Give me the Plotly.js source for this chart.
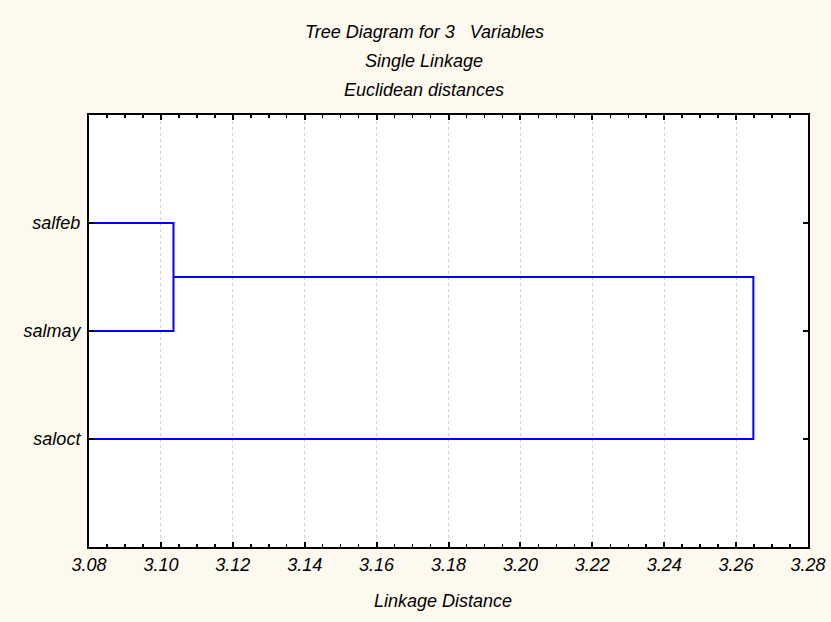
<!DOCTYPE html>
<html>
<head>
<meta charset="utf-8">
<script src="https://cdn.plot.ly/plotly-3.0.1.min.js"></script>
<style>html,body{margin:0;padding:0;background:#fdf9ef;}#chart{width:831px;height:622px;}</style>
</head>
<body>
<div id="chart"></div>
<script>
// ---- data ----
const variables = ['salfeb', 'salmay', 'saloct'];
const leafPositions = [3, 2, 1];
// merges: [clusterA, clusterB]; cluster ids >= n refer to earlier merges
const mergePairs = [[0, 1], [3, 2]];
const mergeDistances = [3.1035, 3.2648];
const xRange = [3.08, 3.28];
const titleLines = ['Tree Diagram for 3   Variables', 'Single Linkage', 'Euclidean distances'];
const xAxisTitle = 'Linkage Distance';

// ---- build dendrogram segments ----
const nodeY = leafPositions.slice();
const nodeX = leafPositions.map(() => xRange[0]);
const xs = [], ys = [];
mergePairs.forEach((pair, i) => {
  const d = mergeDistances[i];
  const [a, b] = pair;
  xs.push(nodeX[a], d, d, nodeX[b], null);
  ys.push(nodeY[a], nodeY[a], nodeY[b], nodeY[b], null);
  nodeY.push((nodeY[a] + nodeY[b]) / 2);
  nodeX.push(d);
});

const font = {family: 'Liberation Sans, Arial, sans-serif', size: 18, color: '#000'};
const titleAnn = titleLines.map((t, i) => ({
  text: '<i>' + t + '</i>', xref: 'paper', yref: 'paper',
  x: 0.466, y: [1.192, 1.125, 1.058][i], xanchor: 'center', yanchor: 'middle',
  showarrow: false, font: font
}));
titleAnn.push({
  text: '<i>' + xAxisTitle + '</i>', xref: 'paper', yref: 'paper',
  x: 0.492, y: -0.125, xanchor: 'center', yanchor: 'middle', showarrow: false, font: font
});

Plotly.newPlot('chart', [{
  x: xs, y: ys, type: 'scatter', mode: 'lines',
  line: {color: '#0000ff', width: 2}, hoverinfo: 'none', showlegend: false, cliponaxis: false
}], {
  width: 831, height: 622,
  paper_bgcolor: '#fdf9ef', plot_bgcolor: '#ffffff',
  margin: {l: 89, r: 23, t: 115, b: 75},
  font: font,
  xaxis: {
    range: xRange, tick0: xRange[0], dtick: 0.02, tickformat: '.2f',
    ticks: 'inside', ticklen: 5, tickwidth: 2, tickcolor: '#000',
    minor: {dtick: 0.005, ticks: 'inside', ticklen: 3, tickwidth: 1.5, tickcolor: '#000', showgrid: false},
    showgrid: true, gridcolor: '#d0d0d0', griddash: 'dot', gridwidth: 1,
    showline: true, linecolor: '#000', linewidth: 2, mirror: 'ticks', zeroline: false,
    tickfont: {family: font.family, size: 18, color: '#000', style: 'italic'},
    ticklabelstandoff: 0
  },
  yaxis: {
    range: [0, 4], tickvals: leafPositions, ticktext: variables,
    ticks: 'inside', ticklen: 5, tickwidth: 2, tickcolor: '#000',
    showgrid: false, showline: true, linecolor: '#000', linewidth: 2, mirror: 'ticks', zeroline: false,
    tickfont: {family: font.family, size: 18, color: '#000', style: 'italic'},
    ticklabelstandoff: 3
  },
  annotations: titleAnn
}, {displayModeBar: false, staticPlot: true});
</script>
</body>
</html>
